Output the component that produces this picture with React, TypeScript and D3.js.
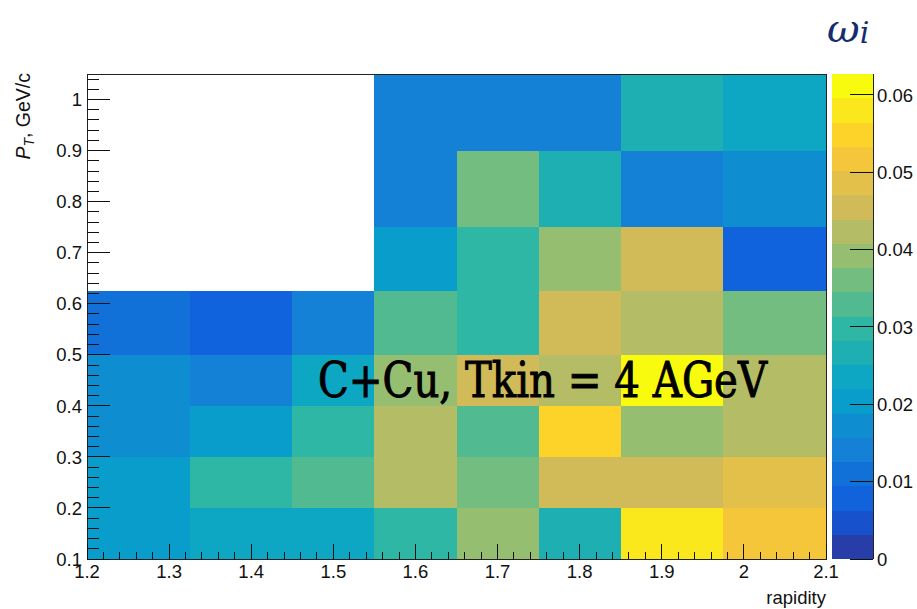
import React from "react";
import * as d3 from "d3";

// ---- data ----
const xEdges = [1.2, 1.325, 1.45, 1.55, 1.65, 1.75, 1.85, 1.975, 2.1];
const yEdges = [0.1, 0.2, 0.3, 0.4, 0.5, 0.625, 0.75, 0.9, 1.05];
// rows from bottom (pT bin) to top; 0 = empty bin
const row0 = [0.0204, 0.0235, 0.0235, 0.0298, 0.0392, 0.0266, 0.058, 0.0517];
const row1 = [0.0204, 0.0298, 0.0329, 0.0423, 0.036, 0.0455, 0.0455, 0.0486];
const row2 = [0.0172, 0.0204, 0.0298, 0.0423, 0.0329, 0.0549, 0.0392, 0.0423];
const row3 = [0.0172, 0.0141, 0.0235, 0.0392, 0.0455, 0.0423, 0.0627, 0.0423];
const row4 = [0.011, 0.0078, 0.0141, 0.0329, 0.0298, 0.0455, 0.0423, 0.036];
const row5 = [0, 0, 0, 0.0204, 0.0298, 0.0392, 0.0455, 0.0078];
const row6 = [0, 0, 0, 0.0141, 0.036, 0.0266, 0.0141, 0.0172];
const row7 = [0, 0, 0, 0.0141, 0.0141, 0.0141, 0.0266, 0.0235];
const rows = [row0, row1, row2, row3, row4, row5, row6, row7];
const xTicks = [1.2, 1.3, 1.4, 1.5, 1.6, 1.7, 1.8, 1.9, 2.0, 2.1];
const yTicks = [0.1, 0.2, 0.3, 0.4, 0.5, 0.6, 0.7, 0.8, 0.9, 1.0];
const zTicks = [0, 0.01, 0.02, 0.03, 0.04, 0.05, 0.06];
const nContours = 20;

// kBird palette stops
const birdStops = [0, 0.125, 0.25, 0.375, 0.5, 0.625, 0.75, 0.875, 1];
const birdR = [0.2082, 0.0592, 0.078, 0.0232, 0.1802, 0.5301, 0.8186, 0.9956, 0.9764];
const birdG = [0.1664, 0.3599, 0.5041, 0.6419, 0.7178, 0.7492, 0.7328, 0.7862, 0.9832];
const birdB = [0.5293, 0.8684, 0.8385, 0.7914, 0.6425, 0.4662, 0.3499, 0.1968, 0.0539];

const sR = d3.scaleLinear().domain(birdStops).range(birdR);
const sG = d3.scaleLinear().domain(birdStops).range(birdG);
const sB = d3.scaleLinear().domain(birdStops).range(birdB);
function bandColor(i: number) {
  const idx = Math.floor((i + 0.99) * 255 / nContours);
  const t = Math.min(1, idx / 254);
  return d3.rgb(sR(t) * 255, sG(t) * 255, sB(t) * 255).formatHex();
}

const W = 917, H = 609;
const FL = 87, FR = 826, FT = 74, FB = 559;
const CBL = 832, CBR = 873;

export default function App() {
  const x = d3.scaleLinear().domain([1.2, 2.1]).range([FL, FR]);
  const y = d3.scaleLinear().domain([0.1, 1.05]).range([FB, FT]);
  const zMax = d3.max(rows.flat()) as number;
  const z = d3.scaleLinear().domain([0, zMax]).range([FB, FT]);
  const band = (v: number) => Math.min(nContours - 1, Math.floor((v / zMax) * nContours));

  const xMinor = d3.range(60, 106).map((k) => k * 0.02).filter((v) => v >= 1.2 - 1e-9 && v <= 2.1 + 1e-9);
  const yMinor = d3.range(5, 53).map((k) => k * 0.02).filter((v) => v >= 0.1 - 1e-9 && v <= 1.05 + 1e-9);
  const font = "'Liberation Sans', Arial, sans-serif";

  return (
    <svg width={W} height={H} style={{ position: "absolute", left: 0, top: 0, background: "#fff" }}>
      {/* cells */}
      {rows.map((r, j) =>
        r.map((v, i) =>
          v > 0 ? (
            <rect key={`c${j}-${i}`} x={x(xEdges[i])} y={y(yEdges[j + 1])}
              width={x(xEdges[i + 1]) - x(xEdges[i])} height={y(yEdges[j]) - y(yEdges[j + 1])}
              fill={bandColor(band(v))} shapeRendering="crispEdges" />
          ) : null
        )
      )}
      {/* frame */}
      <rect x={FL} y={FT} width={FR - FL} height={FB - FT} fill="none" stroke="#222" strokeWidth={1} shapeRendering="crispEdges" />
      {/* x ticks */}
      {xMinor.map((v, k) => (
        <line key={`xm${k}`} x1={x(v)} x2={x(v)} y1={FB} y2={FB - 7.5} stroke="#111" shapeRendering="crispEdges" />
      ))}
      {xTicks.map((v, k) => (
        <g key={`xt${k}`}>
          <line x1={x(v)} x2={x(v)} y1={FB} y2={FB - 15} stroke="#111" shapeRendering="crispEdges" />
          <text x={x(v)} y={578} textAnchor="middle" fontFamily={font} fontSize={18.5} fill="#111">
            {d3.format("")(v)}
          </text>
        </g>
      ))}
      {/* y ticks */}
      {yMinor.map((v, k) => (
        <line key={`ym${k}`} x1={FL} x2={FL + 12} y1={y(v)} y2={y(v)} stroke="#111" shapeRendering="crispEdges" />
      ))}
      {yTicks.map((v, k) => (
        <g key={`yt${k}`}>
          <line x1={FL} x2={FL + 23} y1={y(v)} y2={y(v)} stroke="#111" shapeRendering="crispEdges" />
          <text x={82} y={y(v)} dy="0.36em" textAnchor="end" fontFamily={font} fontSize={18.5} fill="#111">
            {d3.format("")(v)}
          </text>
        </g>
      ))}
      {/* axis titles */}
      <text x={826} y={604} textAnchor="end" fontFamily={font} fontSize={18.5} fill="#111">rapidity</text>
      <text transform={`translate(30,${FT - 1}) rotate(-90)`} textAnchor="end" fontFamily={font} fontSize={19.5} fill="#111">
        <tspan fontStyle="italic">P</tspan>
        <tspan fontStyle="italic" fontSize={14} dy={4}>T</tspan>
        <tspan dy={-4}>, GeV/c</tspan>
      </text>
      {/* colorbar */}
      {d3.range(nContours).map((i) => (
        <rect key={`cb${i}`} x={CBL} width={CBR - CBL} y={z(((i + 1) * zMax) / nContours)}
          height={z((i * zMax) / nContours) - z(((i + 1) * zMax) / nContours)}
          fill={bandColor(i)} shapeRendering="crispEdges" />
      ))}
      <line x1={CBR} x2={CBR} y1={FT} y2={FB} stroke="#222" shapeRendering="crispEdges" />
      {zTicks.map((v, k) => (
        <g key={`zt${k}`}>
          <line x1={CBR} x2={CBR - 23} y1={z(v)} y2={z(v)} stroke="#111" shapeRendering="crispEdges" />
          <text x={877} y={z(v)} dy="0.36em" fontFamily={font} fontSize={18.5} fill="#111">
            {d3.format("")(v)}
          </text>
        </g>
      ))}
      {/* z title */}
      <text x={827} y={42} fontFamily="'DejaVu Serif', serif" fontStyle="italic" fontSize={40} fill="#142d6e">
        ω<tspan fontSize={30} dy={1}>i</tspan>
      </text>
      {/* annotation */}
      <text x={318} y={397} fontFamily="'DejaVu Serif Condensed', 'DejaVu Serif', serif" fontSize={49}
        stroke="#000" strokeWidth={0.9} textLength={449} lengthAdjust="spacingAndGlyphs" fill="#000">
        C+Cu, Tkin = 4 AGeV
      </text>
    </svg>
  );
}
